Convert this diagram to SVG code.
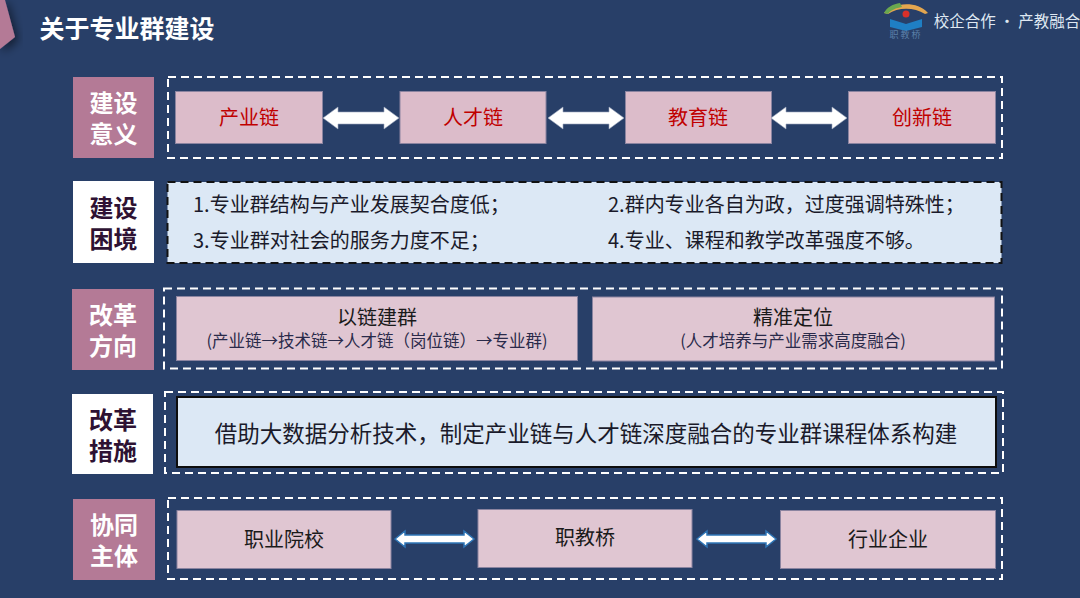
<svg xmlns="http://www.w3.org/2000/svg" width="1080" height="598" viewBox="0 0 1080 598">
<style>
text{font-family:"Noto Sans CJK SC","Noto Sans",sans-serif;text-anchor:middle}
.lab{fill:#b47a96}
.wt{fill:#fff;font-size:24px;font-weight:700}
.dk{fill:#2e1233;font-size:24px;font-weight:700}
.dash{fill:none;stroke:#fff;stroke-width:2;stroke-dasharray:8 5}
.pk{fill:#dcbcca;stroke:#8b84a0;stroke-width:1}
.pk2{fill:#e0c6d2;stroke:#8b84a0;stroke-width:1}
.red{fill:#c00000;font-size:20px}
.blk{fill:#1a1a1a;font-size:20px}
.ln{fill:#1a1a2a;font-size:20px;text-anchor:start}
.dbl{fill:#fff;stroke:#2e75b6;stroke-width:1.5}
.dblw{fill:#fff;stroke:#9aa6bc;stroke-width:.6}
</style>
<defs><filter id="sh" x="-50%" y="-50%" width="200%" height="200%"><feDropShadow dx="3" dy="3" stdDeviation="5" flood-color="#000" flood-opacity=".55"/></filter></defs>
<rect width="1080" height="598" fill="#283f68"/>
<g id="title">
<polygon points="0,0 5,0 15,37 0,49" fill="#b47a96" filter="url(#sh)"/>
<text x="127" y="38" font-size="25" font-weight="700" fill="#fff">关于专业群建设</text>
</g>
<g id="logo">
<path d="M884,13 C890,4 916,-1 928,13 L925,14 C914,7 898,7 888,14 Z" fill="#e3a64f"/>
<path d="M884,13 C887,7 893,4 900,3 L902,7 C896,8 891,10 888,14 Z" fill="#6aa84f"/>
<circle cx="906" cy="14" r="3.5" fill="#d9302a"/>
<path d="M890,19 L906,24 L922,19 V27 L906,31 L890,27 Z" fill="#1f7fc4"/>
<text x="906" y="38" font-size="9" fill="#5b7fa8" letter-spacing="2">职教桥</text>
<text x="1007" y="27" font-size="15.500" fill="#dfe8f2">校企合作 · 产教融合</text>
</g>

<g id="row1">
<rect class="lab" x="73" y="77" width="81" height="81"/>
<text class="wt" x="113.500" y="112">建设</text><text class="wt" x="113.500" y="143">意义</text>
<rect class="dash" x="168" y="77" width="834" height="81"/>
<g id="n-chanye"><rect class="pk" x="175.500" y="91.500" width="147" height="52"/><text class="red" x="249" y="125">产业链</text></g>
<g id="n-rencai"><rect class="pk" x="400" y="91.500" width="146" height="52"/><text class="red" x="473" y="125">人才链</text></g>
<g id="n-jiaoyu"><rect class="pk" x="625.500" y="91.500" width="146" height="52"/><text class="red" x="698" y="125">教育链</text></g>
<g id="n-chuangxin"><rect class="pk" x="848.500" y="91.500" width="147" height="52"/><text class="red" x="922" y="125">创新链</text></g>
</g>

<g id="row2">
<rect x="73" y="181" width="81" height="82" fill="#fff"/>
<text class="dk" x="113.500" y="217">建设</text><text class="dk" x="113.500" y="248">困境</text>
<rect x="167.500" y="182" width="834" height="81" fill="#dce8f5" stroke="#111" stroke-width="2" stroke-dasharray="8 5"/>
<text class="ln" x="193" y="212">1.专业群结构与产业发展契合度低；</text>
<text class="ln" x="608" y="212">2.群内专业各自为政，过度强调特殊性；</text>
<text class="ln" x="193" y="248">3.专业群对社会的服务力度不足；</text>
<text class="ln" x="608" y="248">4.专业、课程和教学改革强度不够。</text>
</g>

<g id="row3">
<rect class="lab" x="72" y="289" width="82" height="81"/>
<text class="wt" x="113" y="324">改革</text><text class="wt" x="113" y="355">方向</text>
<rect class="dash" x="164" y="288.500" width="838" height="80"/>
<g id="n-yilian"><rect class="pk2" x="176.500" y="296.500" width="401" height="64"/>
<text class="blk" x="377" y="325">以链建群</text><text x="377" y="347" font-size="16.500" fill="#2a2a4a">(产业链→技术链→人才链（岗位链）→专业群)</text></g>
<g id="n-jingzhun"><rect class="pk2" x="592.500" y="297" width="402" height="64"/>
<text class="blk" x="793" y="325">精准定位</text><text x="793" y="347" font-size="16.500" fill="#2a2a4a">(人才培养与产业需求高度融合)</text></g>
</g>

<g id="row4">
<rect x="72" y="394" width="81" height="80" fill="#fff"/>
<text class="dk" x="113" y="429">改革</text><text class="dk" x="113" y="460">措施</text>
<rect class="dash" x="165" y="392" width="838" height="81"/>
<g id="n-jiezhu"><rect x="177" y="397" width="819" height="70" fill="#dce8f5" stroke="#0d0d0d" stroke-width="2"/>
<text x="586" y="442" font-size="22.500" fill="#1a1a2a">借助大数据分析技术，制定产业链与人才链深度融合的专业群课程体系构建</text></g>
</g>

<g id="row5">
<rect class="lab" x="73" y="499" width="82" height="81"/>
<text class="wt" x="114" y="534">协同</text><text class="wt" x="114" y="565">主体</text>
<rect class="dash" x="168" y="498" width="834" height="81"/>
<g id="n-yuanxiao"><rect class="pk2" x="177" y="510.500" width="214" height="58"/><text class="blk" x="284" y="547">职业院校</text></g>
<g id="n-zhijiaoqiao"><rect class="pk2" x="478" y="509.500" width="214" height="58"/><text class="blk" x="585" y="545">职教桥</text></g>
<g id="n-qiye"><rect class="pk2" x="780.500" y="510.500" width="215" height="58"/><text class="blk" x="888" y="547">行业企业</text></g>
</g>

<g id="connectors">
<polygon class="dblw" points="323,118 338,107 338,112 384,112 384,107 399,118 384,129 384,124 338,124 338,129"/>
<polygon class="dblw" points="548,118 563,107 563,112 609,112 609,107 624,118 609,129 609,124 563,124 563,129"/>
<polygon class="dblw" points="771,118 786,107 786,112 832,112 832,107 847,118 832,129 832,124 786,124 786,129"/>
<polygon class="dbl" points="395,539 405,531 405,535 464,535 464,531 474,539 464,547 464,543 405,543 405,547"/>
<polygon class="dbl" points="697,539 707,531 707,535 766,535 766,531 776,539 766,547 766,543 707,543 707,547"/>
</g>
</svg>
